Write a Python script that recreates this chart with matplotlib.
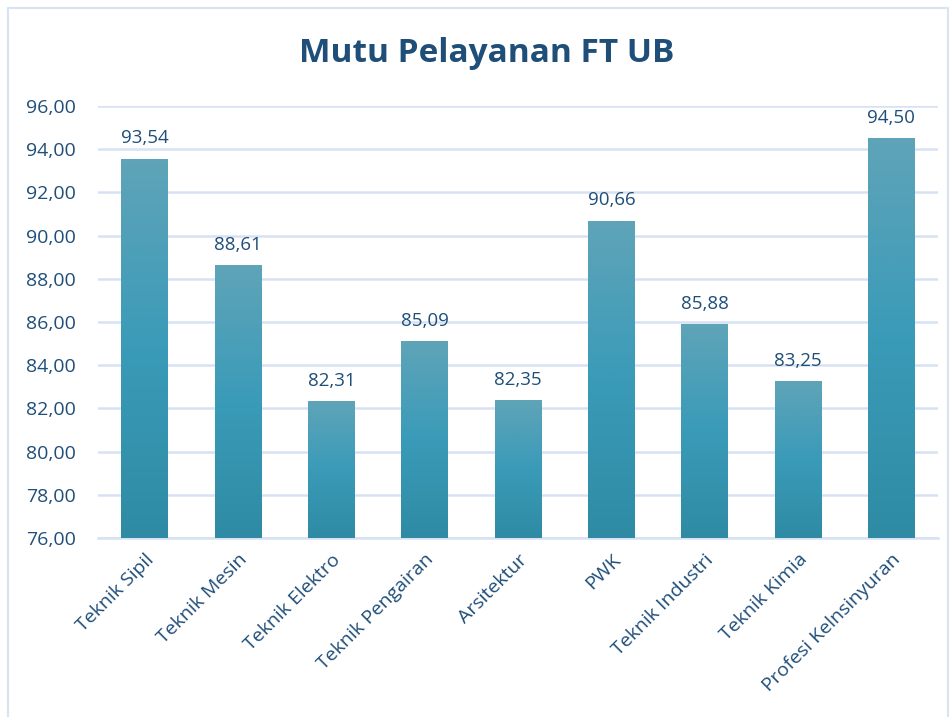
import numpy as np
import matplotlib.pyplot as plt
from matplotlib.patches import Rectangle
from matplotlib.colors import LinearSegmentedColormap

categories = ["Teknik Sipil", "Teknik Mesin", "Teknik Elektro", "Teknik Pengairan",
              "Arsitektur", "PWK", "Teknik Industri", "Teknik Kimia", "Profesi Kelnsinyuran"]
values = [93.54, 88.61, 82.31, 85.09, 82.35, 90.66, 85.88, 83.25, 94.50]
yticks = [76, 78, 80, 82, 84, 86, 88, 90, 92, 94, 96]

plt.rcParams['font.family'] = ['Open Sans', 'DejaVu Sans']
txt = "#1f4e79"
grid = "#d6e2f2"

fig = plt.figure(figsize=(9.53, 7.17), dpi=100)
ax = fig.add_axes([98/953, 1 - 538/717, 840/953, 432/717])

# gradient: light top -> bright mid -> dark bottom
cmap = LinearSegmentedColormap.from_list("g", ["#2f8ba4", "#3a9bb8", "#5fa4b8"])
grad = np.linspace(0, 1, 256).reshape(-1, 1)

x = np.arange(len(categories))
bars = ax.bar(x, values, width=0.5, color="none", zorder=3)
for b, v in zip(bars, values):
    ax.imshow(grad, cmap=cmap, aspect="auto", origin="lower",
              extent=[b.get_x(), b.get_x() + b.get_width(), 76, v], zorder=3)
    ax.text(b.get_x() + b.get_width() / 2, v + 0.55, f"{v:.2f}".replace(".", ","),
            ha="center", va="bottom", fontsize=13.5, color=txt)

ax.set_xlim(-0.5, len(categories) - 0.5)
ax.set_ylim(76, 96)
ax.set_yticks(yticks)
ax.set_yticklabels([f"{t:.2f}".replace(".", ",") for t in yticks], fontsize=14, color=txt)
ax.set_xticks(x)
ax.set_xticklabels(categories, rotation=45, ha="right", rotation_mode="anchor",
                   fontsize=14, color=txt)
ax.tick_params(length=0, axis="y", pad=16)
ax.tick_params(length=0, axis="x", pad=9)
ax.grid(axis="y", color=grid, lw=1.8, zorder=0)
for s in ["top", "right", "left"]:
    ax.spines[s].set_visible(False)
ax.spines["bottom"].set_color(grid)
ax.spines["bottom"].set_linewidth(1.8)

fig.text(487/953, 1 - 54/717, "Mutu Pelayanan FT UB", ha="center", va="center",
         fontsize=24, fontweight="bold", color=txt)

fig.patches.append(Rectangle((8/953, -0.01), 940/953, 1 - 8/717 + 0.01,
                             transform=fig.transFigure, fill=False,
                             edgecolor="#d9e4f2", lw=1.5))

fig.savefig("out.png", dpi=100)
